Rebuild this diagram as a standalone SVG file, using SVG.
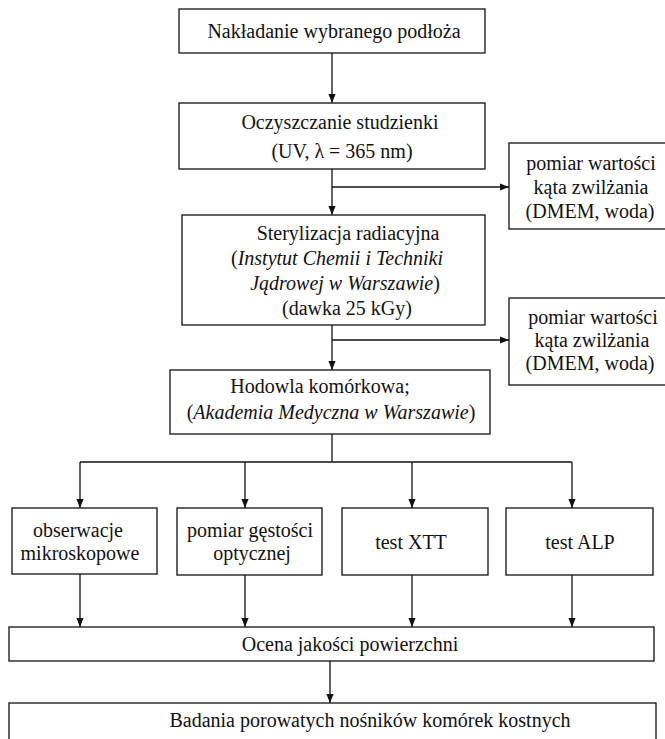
<svg xmlns="http://www.w3.org/2000/svg" width="665" height="739" viewBox="0 0 665 739">
<style>
rect.box{fill:#fff;stroke:#111;stroke-width:1.3}
text{font-family:"Liberation Serif","Times New Roman",serif;font-size:20px;fill:#111;text-anchor:middle}
.it{font-style:italic}
.ln{stroke:#111;stroke-width:1.3;fill:none}
</style>
<defs>
<marker id="ah" viewBox="0 0 10 10" refX="10" refY="5" markerWidth="9" markerHeight="9" markerUnits="userSpaceOnUse" orient="auto">
<path d="M0,1 L10,5 L0,9 Z" fill="#111"/>
</marker>
</defs>
<rect width="665" height="739" fill="#fff"/>
<g id="connectors">
<line class="ln" x1="332" y1="53" x2="332" y2="103" marker-end="url(#ah)"/>
<line class="ln" x1="332" y1="169" x2="332" y2="215" marker-end="url(#ah)"/>
<line class="ln" x1="332" y1="187" x2="509" y2="187" marker-end="url(#ah)"/>
<line class="ln" x1="332" y1="325" x2="332" y2="370" marker-end="url(#ah)"/>
<line class="ln" x1="332" y1="340" x2="509" y2="340" marker-end="url(#ah)"/>
<line class="ln" x1="332" y1="434" x2="332" y2="462"/>
<line class="ln" x1="80" y1="462" x2="572" y2="462"/>
<line class="ln" x1="80" y1="462" x2="80" y2="508" marker-end="url(#ah)"/>
<line class="ln" x1="245" y1="462" x2="245" y2="508" marker-end="url(#ah)"/>
<line class="ln" x1="412" y1="462" x2="412" y2="508" marker-end="url(#ah)"/>
<line class="ln" x1="572" y1="462" x2="572" y2="508" marker-end="url(#ah)"/>
<line class="ln" x1="80" y1="574" x2="80" y2="627" marker-end="url(#ah)"/>
<line class="ln" x1="245" y1="575" x2="245" y2="627" marker-end="url(#ah)"/>
<line class="ln" x1="412" y1="575" x2="412" y2="627" marker-end="url(#ah)"/>
<line class="ln" x1="572" y1="575" x2="572" y2="627" marker-end="url(#ah)"/>
<line class="ln" x1="330" y1="661" x2="330" y2="703" marker-end="url(#ah)"/>
</g>
<g id="n1"><rect class="box" x="179" y="9" width="306" height="44"/><text x="334" y="38">Nakładanie wybranego podłoża</text></g>
<g id="n2"><rect class="box" x="179" y="103" width="306" height="66"/><text x="340" y="129">Oczyszczanie studzienki</text><text x="342" y="158">(UV, λ = 365 nm)</text></g>
<g id="n3"><rect class="box" x="509" y="143" width="170" height="86"/><text x="591" y="170">pomiar wartości</text><text x="591" y="194">kąta zwilżania</text><text x="590" y="218">(DMEM, woda)</text></g>
<g id="n4"><rect class="box" x="182" y="215" width="303" height="110"/><text x="348" y="240">Sterylizacja radiacyjna</text><text x="337" y="265">(<tspan class="it">Instytut Chemii i Techniki</tspan></text><text x="345" y="290"><tspan class="it">Jądrowej w Warszawie</tspan>)</text><text x="347" y="315">(dawka 25 kGy)</text></g>
<g id="n5"><rect class="box" x="509" y="298" width="170" height="87"/><text x="593" y="324">pomiar wartości</text><text x="592" y="347">kąta zwilżania</text><text x="590" y="370">(DMEM, woda)</text></g>
<g id="n6"><rect class="box" x="170" y="370" width="320" height="64"/><text x="320" y="393">Hodowla komórkowa;</text><text x="331" y="419">(<tspan class="it">Akademia Medyczna w Warszawie</tspan>)</text></g>
<g id="n7"><rect class="box" x="12" y="508" width="145" height="66"/><text x="78" y="537">obserwacje</text><text x="80" y="560">mikroskopowe</text></g>
<g id="n8"><rect class="box" x="177" y="508" width="145" height="67"/><text x="250" y="537">pomiar gęstości</text><text x="252" y="560">optycznej</text></g>
<g id="n9"><rect class="box" x="342" y="508" width="146" height="67"/><text x="411" y="549">test XTT</text></g>
<g id="n10"><rect class="box" x="506" y="508" width="147" height="67"/><text x="580" y="549">test ALP</text></g>
<g id="n11"><rect class="box" x="9" y="627" width="645" height="34"/><text x="350" y="651">Ocena jakości powierzchni</text></g>
<g id="n12"><rect class="box" x="9" y="703" width="647" height="50"/><text x="370" y="727">Badania porowatych nośników komórek kostnych</text></g>
</svg>
